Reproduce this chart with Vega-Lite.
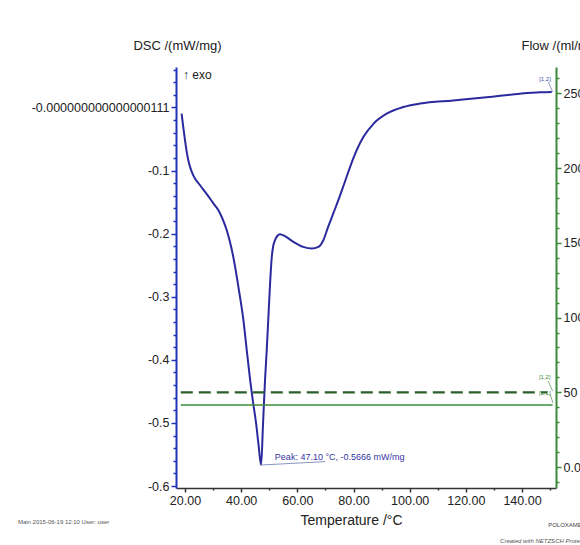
{
  "$schema": "https://vega.github.io/schema/vega-lite/v6.json",
  "width": 380,
  "height": 421,
  "autosize": {"type": "none"},
  "padding": {"left": 176, "right": 24, "top": 67, "bottom": 57},
  "background": "white",
  "config": {
    "view": {"stroke": null},
    "font": "Liberation Sans",
    "axis": {"grid": false, "labelFont": "Liberation Sans", "titleFont": "Liberation Sans", "labelOverlap": false, "labelBound": false, "labelFlush": false}
  },
  "datasets": {
    "dsc": [
      {"T": 18.8, "v": -0.010}, {"T": 19.3, "v": -0.028}, {"T": 20.0, "v": -0.052}, {"T": 20.6, "v": -0.070},
      {"T": 21.2, "v": -0.084}, {"T": 22.0, "v": -0.097}, {"T": 23.0, "v": -0.108}, {"T": 25.3, "v": -0.123},
      {"T": 27.7, "v": -0.137}, {"T": 30.1, "v": -0.152}, {"T": 31.9, "v": -0.163}, {"T": 32.5, "v": -0.168},
      {"T": 33.7, "v": -0.180}, {"T": 34.9, "v": -0.195}, {"T": 36.0, "v": -0.213}, {"T": 37.2, "v": -0.237},
      {"T": 38.1, "v": -0.259}, {"T": 39.0, "v": -0.284}, {"T": 40.8, "v": -0.337}, {"T": 42.0, "v": -0.385},
      {"T": 43.2, "v": -0.432}, {"T": 44.2, "v": -0.466}, {"T": 45.3, "v": -0.500}, {"T": 46.2, "v": -0.535},
      {"T": 47.1, "v": -0.5666}, {"T": 47.8, "v": -0.500}, {"T": 48.5, "v": -0.432}, {"T": 49.1, "v": -0.385},
      {"T": 49.7, "v": -0.332}, {"T": 50.3, "v": -0.279}, {"T": 50.9, "v": -0.237}, {"T": 51.4, "v": -0.220},
      {"T": 52.1, "v": -0.210}, {"T": 53.0, "v": -0.203}, {"T": 53.8, "v": -0.201}, {"T": 55.6, "v": -0.204},
      {"T": 58.6, "v": -0.213}, {"T": 62.1, "v": -0.221}, {"T": 65.1, "v": -0.2236}, {"T": 67.5, "v": -0.221},
      {"T": 69.3, "v": -0.210}, {"T": 71.0, "v": -0.189}, {"T": 72.8, "v": -0.168}, {"T": 74.6, "v": -0.147},
      {"T": 77.0, "v": -0.117}, {"T": 79.9, "v": -0.081}, {"T": 83.5, "v": -0.047}, {"T": 87.1, "v": -0.026},
      {"T": 91.8, "v": -0.010}, {"T": 97.7, "v": 0.0005}, {"T": 103.7, "v": 0.006}, {"T": 115.5, "v": 0.011},
      {"T": 127.4, "v": 0.016}, {"T": 139.3, "v": 0.0217}, {"T": 146.4, "v": 0.024}, {"T": 150.6, "v": 0.0245}
    ],
    "blueLeaders": [
      {"T": 47.1, "T2": 69.9, "v": -0.5666, "v2": -0.5612},
      {"T": 149.4, "T2": 150.9, "v": 0.040, "v2": 0.0245}
    ],
    "greenLeaders": [
      {"T": 149.3, "T2": 150.9, "f": 57.6, "f2": 50.9},
      {"T": 150.0, "T2": 151.0, "f": 48.9, "f2": 42.9}
    ]
  },
  "layer": [
    {
      "layer": [
        {
          "data": {"name": "dsc"},
          "mark": {"type": "line", "color": "#2a2a9e", "strokeWidth": 2, "interpolate": "monotone"},
          "encoding": {
            "x": {
              "field": "T", "type": "quantitative",
              "scale": {"domain": [16.8, 152.1], "nice": false, "zero": false},
              "axis": {
                "values": [20, 30, 40, 50, 60, 70, 80, 90, 100, 110, 120, 130, 140, 150],
                "tickCount": 500,
                "labelOverlap": false,
                "labelExpr": "datum.value % 20 == 0 ? format(datum.value, '.2f') : ''",
                "tickSize": {"condition": {"test": "datum.value % 20 == 0", "value": 4}, "value": 2},
                "domainColor": "#333333", "tickColor": "#333333", "domainWidth": 1.5, "tickWidth": 1.5,
                "labelFontSize": 12.5, "labelColor": "#222222", "labelPadding": 2,
                "title": "Temperature /°C", "titleFontSize": 14, "titleFontWeight": "normal", "titleColor": "#222222",
                "titleX": 175, "titleY": 32, "titleAnchor": null, "titleAlign": "center", "titleBaseline": "middle"
              }
            },
            "y": {
              "field": "v", "type": "quantitative",
              "scale": {"domain": [-0.603, 0.064], "nice": false, "zero": false},
              "axis": {
                "orient": "left",
                "tickCount": 500,
                "labelOverlap": false,
                "values": [-0.6, -0.58, -0.56, -0.54, -0.52, -0.5, -0.48, -0.46, -0.44, -0.42, -0.4, -0.38, -0.36, -0.34, -0.32, -0.3, -0.28, -0.26, -0.24, -0.22, -0.2, -0.18, -0.16, -0.14, -0.12, -0.1, -0.08, -0.06, -0.04, -0.02, 0, 0.02, 0.04, 0.06],
                "labelExpr": "abs(datum.value) < 0.0001 ? '-0.000000000000000111' : (abs(datum.value*10 - round(datum.value*10)) < 0.001 ? '-' + format(abs(datum.value), '.1f') : '')",
                "tickSize": {"condition": {"test": "abs(datum.value*10 - round(datum.value*10)) < 0.001", "value": 5}, "value": 3},
                "domainColor": "#2233bb", "tickColor": "#2233bb", "domainWidth": 2, "tickWidth": 1.5,
                "labelFontSize": 12.5, "labelColor": "#222222", "labelPadding": 2,
                "title": "DSC /(mW/mg)", "titleAngle": 0, "titleX": 1, "titleY": -22, "titleAnchor": null,
                "titleAlign": "center", "titleBaseline": "middle", "titleFontSize": 13, "titleFontWeight": "normal", "titleColor": "#222222"
              }
            }
          }
        },
        {
          "data": {"name": "blueLeaders"},
          "mark": {"type": "rule", "color": "#6a78b0", "strokeWidth": 0.8},
          "encoding": {
            "x": {"field": "T", "type": "quantitative", "scale": {"domain": [16.8, 152.1], "nice": false, "zero": false}},
            "x2": {"field": "T2"},
            "y": {"field": "v", "type": "quantitative", "scale": {"domain": [-0.603, 0.064], "nice": false, "zero": false}},
            "y2": {"field": "v2"}
          }
        },
        {
          "data": {"values": [{"T": 19.3, "v": 0.0506, "label": "↑ exo"}]},
          "mark": {"type": "text", "align": "left", "baseline": "middle", "fontSize": 12, "color": "#222222"},
          "encoding": {
            "x": {"field": "T", "type": "quantitative", "scale": {"domain": [16.8, 152.1], "nice": false, "zero": false}},
            "y": {"field": "v", "type": "quantitative", "scale": {"domain": [-0.603, 0.064], "nice": false, "zero": false}},
            "text": {"field": "label"}
          }
        },
        {
          "data": {"values": [{"T": 52.0, "v": -0.554, "label": "Peak: 47.10 °C, -0.5666 mW/mg"}]},
          "mark": {"type": "text", "align": "left", "baseline": "middle", "fontSize": 9, "color": "#3535a5"},
          "encoding": {
            "x": {"field": "T", "type": "quantitative", "scale": {"domain": [16.8, 152.1], "nice": false, "zero": false}},
            "y": {"field": "v", "type": "quantitative", "scale": {"domain": [-0.603, 0.064], "nice": false, "zero": false}},
            "text": {"field": "label"}
          }
        },
        {
          "data": {"values": [{"T": 148.2, "v": 0.0454, "label": "[1,2]"}]},
          "mark": {"type": "text", "align": "center", "baseline": "middle", "fontSize": 6, "color": "#4050a0"},
          "encoding": {
            "x": {"field": "T", "type": "quantitative", "scale": {"domain": [16.8, 152.1], "nice": false, "zero": false}},
            "y": {"field": "v", "type": "quantitative", "scale": {"domain": [-0.603, 0.064], "nice": false, "zero": false}},
            "text": {"field": "label"}
          }
        },
        {
          "data": {"values": [{"T": -39.5, "v": -0.6566, "label": "Main    2015-06-19 12:10    User: user"}]},
          "mark": {"type": "text", "align": "left", "baseline": "middle", "fontSize": 6, "color": "#555555"},
          "encoding": {
            "x": {"field": "T", "type": "quantitative", "scale": {"domain": [16.8, 152.1], "nice": false, "zero": false}},
            "y": {"field": "v", "type": "quantitative", "scale": {"domain": [-0.603, 0.064], "nice": false, "zero": false}},
            "text": {"field": "label"}
          }
        },
        {
          "data": {"values": [{"T": 149.3, "v": -0.6624, "label": "POLOXAMER-237"}]},
          "mark": {"type": "text", "align": "left", "baseline": "middle", "fontSize": 6, "color": "#444444"},
          "encoding": {
            "x": {"field": "T", "type": "quantitative", "scale": {"domain": [16.8, 152.1], "nice": false, "zero": false}},
            "y": {"field": "v", "type": "quantitative", "scale": {"domain": [-0.603, 0.064], "nice": false, "zero": false}},
            "text": {"field": "label"}
          }
        },
        {
          "data": {"values": [{"T": 132.2, "v": -0.6867, "label": "Created with NETZSCH Proteus software"}]},
          "mark": {"type": "text", "align": "left", "baseline": "middle", "fontSize": 6, "fontStyle": "italic", "color": "#555555"},
          "encoding": {
            "x": {"field": "T", "type": "quantitative", "scale": {"domain": [16.8, 152.1], "nice": false, "zero": false}},
            "y": {"field": "v", "type": "quantitative", "scale": {"domain": [-0.603, 0.064], "nice": false, "zero": false}},
            "text": {"field": "label"}
          }
        }
      ]
    },
    {
      "layer": [
        {
          "data": {"values": [{"T": 18.5, "f": 50}, {"T": 149.0, "f": 50}]},
          "mark": {"type": "line", "color": "#2b5e2b", "strokeWidth": 2.2, "strokeDash": [12, 6]},
          "encoding": {
            "x": {"field": "T", "type": "quantitative", "scale": {"domain": [16.8, 152.1], "nice": false, "zero": false}},
            "y": {
              "field": "f", "type": "quantitative",
              "scale": {"domain": [-14, 267.6], "nice": false, "zero": false},
              "axis": {
                "orient": "right",
                "tickCount": 500,
                "labelOverlap": false,
                "values": [-10, 0, 10, 20, 30, 40, 50, 60, 70, 80, 90, 100, 110, 120, 130, 140, 150, 160, 170, 180, 190, 200, 210, 220, 230, 240, 250, 260],
                "labelExpr": "datum.value % 50 == 0 ? (datum.value == 0 ? '0.0' : format(datum.value, 'd')) : ''",
                "tickSize": {"condition": {"test": "datum.value % 50 == 0", "value": 5}, "value": 3},
                "domainColor": "#3a8a3a", "tickColor": "#3a8a3a", "domainWidth": 2, "tickWidth": 1.5,
                "labelFontSize": 12.5, "labelColor": "#222222", "labelPadding": 2,
                "title": "Flow /(ml/min)", "titleAngle": 0, "titleX": -35, "titleY": -22, "titleAnchor": null,
                "titleAlign": "left", "titleBaseline": "middle", "titleFontSize": 13, "titleFontWeight": "normal", "titleColor": "#222222"
              }
            }
          }
        },
        {
          "data": {"values": [{"T": 18.5, "f": 41.5}, {"T": 150.9, "f": 41.5}]},
          "mark": {"type": "line", "color": "#3d8b3d", "strokeWidth": 1.5},
          "encoding": {
            "x": {"field": "T", "type": "quantitative", "scale": {"domain": [16.8, 152.1], "nice": false, "zero": false}},
            "y": {"field": "f", "type": "quantitative", "scale": {"domain": [-14, 267.6], "nice": false, "zero": false}}
          }
        },
        {
          "data": {"name": "greenLeaders"},
          "mark": {"type": "rule", "color": "#6a9a6a", "strokeWidth": 0.8},
          "encoding": {
            "x": {"field": "T", "type": "quantitative", "scale": {"domain": [16.8, 152.1], "nice": false, "zero": false}},
            "x2": {"field": "T2"},
            "y": {"field": "f", "type": "quantitative", "scale": {"domain": [-14, 267.6], "nice": false, "zero": false}},
            "y2": {"field": "f2"}
          }
        },
        {
          "data": {"values": [{"T": 148.1, "f": 60.3, "label": "[1,2]"}, {"T": 148.1, "f": 49.8, "label": "[1,1]"}]},
          "mark": {"type": "text", "align": "center", "baseline": "middle", "fontSize": 6, "color": "#3a8a3a"},
          "encoding": {
            "x": {"field": "T", "type": "quantitative", "scale": {"domain": [16.8, 152.1], "nice": false, "zero": false}},
            "y": {"field": "f", "type": "quantitative", "scale": {"domain": [-14, 267.6], "nice": false, "zero": false}},
            "text": {"field": "label"}
          }
        }
      ]
    }
  ],
  "resolve": {"scale": {"y": "independent"}}
}
